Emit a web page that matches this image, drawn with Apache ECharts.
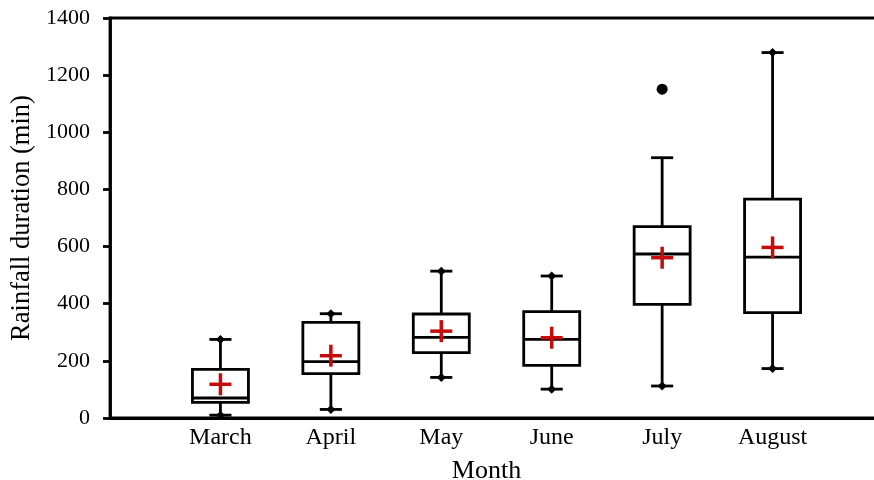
<!DOCTYPE html>
<html>
<head>
<meta charset="utf-8">
<script src="https://cdn.jsdelivr.net/npm/echarts@6/dist/echarts.min.js"></script>
<style>html,body{margin:0;padding:0;background:#fff;overflow:hidden}#c{width:884px;height:480px}</style>
</head>
<body>
<div id="c"></div>
<script>
const categories = ['March', 'April', 'May', 'June', 'July', 'August'];
const lows    = [10, 30, 142, 101, 112, 173];
const q1s     = [55, 155, 229, 184, 398, 369];
const medians = [70, 197, 282, 275, 574, 563];
const q3s     = [170, 335, 364, 372, 670, 766];
const highs   = [275, 365, 514, 497, 911, 1279];
const means   = [118, 218, 304, 281, 561, 597];
const outlierMonths = ['July'];
const outlierValues = [1151];

const FONT = 'Liberation Serif';
const axisCats = [''].concat(categories, ['']);

const boxData = categories.map((c, i) => [c, lows[i], q1s[i], medians[i], q3s[i], highs[i], means[i]]);
const outlierData = outlierMonths.map((m, i) => [m, outlierValues[i]]);

function renderBox(params, api) {
  const i = params.dataIndex;
  const x = api.value(0);
  const pLo = api.coord([x, api.value(1)]);
  const pQ1 = api.coord([x, api.value(2)]);
  const pMed = api.coord([x, api.value(3)]);
  const pQ3 = api.coord([x, api.value(4)]);
  const pHi = api.coord([x, api.value(5)]);
  const pMean = api.coord([x, api.value(6)]);
  const cx = pQ1[0];
  const band = api.size([1, 0])[0];
  const bw = band * 0.507;
  const cw = band * 0.2;
  const lw = 2.8;
  const black = { stroke: '#000', lineWidth: lw, fill: null };
  const hasOutAbove = outlierMonths.some((m, k) => m === categories[i] && outlierValues[k] > highs[i]);
  const hasOutBelow = outlierMonths.some((m, k) => m === categories[i] && outlierValues[k] < lows[i]);
  const d = 4.5;
  const diamond = (y) => ({
    type: 'polygon',
    shape: { points: [[cx, y - d], [cx + d, y], [cx, y + d], [cx - d, y]] },
    style: { fill: '#000' }
  });
  const children = [
    { type: 'line', shape: { x1: cx, y1: pQ3[1], x2: cx, y2: pHi[1] }, style: black },
    { type: 'line', shape: { x1: cx, y1: pQ1[1], x2: cx, y2: pLo[1] }, style: black },
    { type: 'line', shape: { x1: cx - cw / 2, y1: pHi[1], x2: cx + cw / 2, y2: pHi[1] }, style: black },
    { type: 'line', shape: { x1: cx - cw / 2, y1: pLo[1], x2: cx + cw / 2, y2: pLo[1] }, style: black },
    { type: 'rect', shape: { x: cx - bw / 2, y: pQ3[1], width: bw, height: pQ1[1] - pQ3[1] },
      style: { stroke: '#000', lineWidth: lw, fill: '#fff' } },
    { type: 'line', shape: { x1: cx - bw / 2, y1: pMed[1], x2: cx + bw / 2, y2: pMed[1] }, style: black }
  ];
  if (!hasOutAbove) children.push(diamond(pHi[1]));
  if (!hasOutBelow) children.push(diamond(pLo[1]));
  const ps = 11;
  const red = { stroke: '#c40c0c', lineWidth: 3.5, fill: null };
  children.push({ type: 'line', shape: { x1: cx - ps, y1: pMean[1], x2: cx + ps, y2: pMean[1] }, style: red });
  children.push({ type: 'line', shape: { x1: cx, y1: pMean[1] - ps, x2: cx, y2: pMean[1] + ps }, style: red });
  return { type: 'group', children: children };
}

const chart = echarts.init(document.getElementById('c'), null, { renderer: 'canvas' });
chart.setOption({
  animation: false,
  backgroundColor: '#fff',
  grid: { left: 110, top: 18, bottom: 62, right: 1, outerBoundsMode: 'none', containLabel: false,
          show: true, borderColor: '#000', borderWidth: 2.8, backgroundColor: 'transparent' },
  xAxis: {
    type: 'category',
    data: axisCats,
    boundaryGap: false,
    axisLine: { show: true, lineStyle: { color: '#000', width: 2.8 } },
    axisTick: { show: false },
    axisLabel: { color: '#000', fontFamily: FONT, fontSize: 24, margin: 8, interval: 0 },
    splitLine: { show: false },
    name: 'Month',
    nameLocation: 'middle',
    nameGap: 40,
    nameTextStyle: { color: '#000', fontFamily: FONT, fontSize: 26, padding: [0, 20, 0, 0] }
  },
  yAxis: {
    type: 'value',
    min: 0, max: 1400, interval: 200,
    axisLine: { show: true, lineStyle: { color: '#000', width: 2.8 } },
    axisTick: { show: true, length: 7, lineStyle: { color: '#000', width: 2.8 } },
    axisLabel: { color: '#000', fontFamily: FONT, fontSize: 22, margin: 20, formatter: (v) => String(v) },
    splitLine: { show: false },
    name: 'Rainfall duration (min)',
    nameLocation: 'middle',
    nameGap: 73,
    nameTextStyle: { color: '#000', fontFamily: FONT, fontSize: 26.5 }
  },
  series: [
    {
      type: 'custom',
      renderItem: renderBox,
      data: boxData,
      encode: { x: 0, y: [1, 2, 3, 4, 5, 6] },
      clip: false,
      z: 3
    },
    {
      type: 'scatter',
      data: outlierData,
      symbol: 'circle',
      symbolSize: 11,
      itemStyle: { color: '#000', opacity: 1 },
      z: 4
    }
  ]
});
</script>
</body>
</html>
